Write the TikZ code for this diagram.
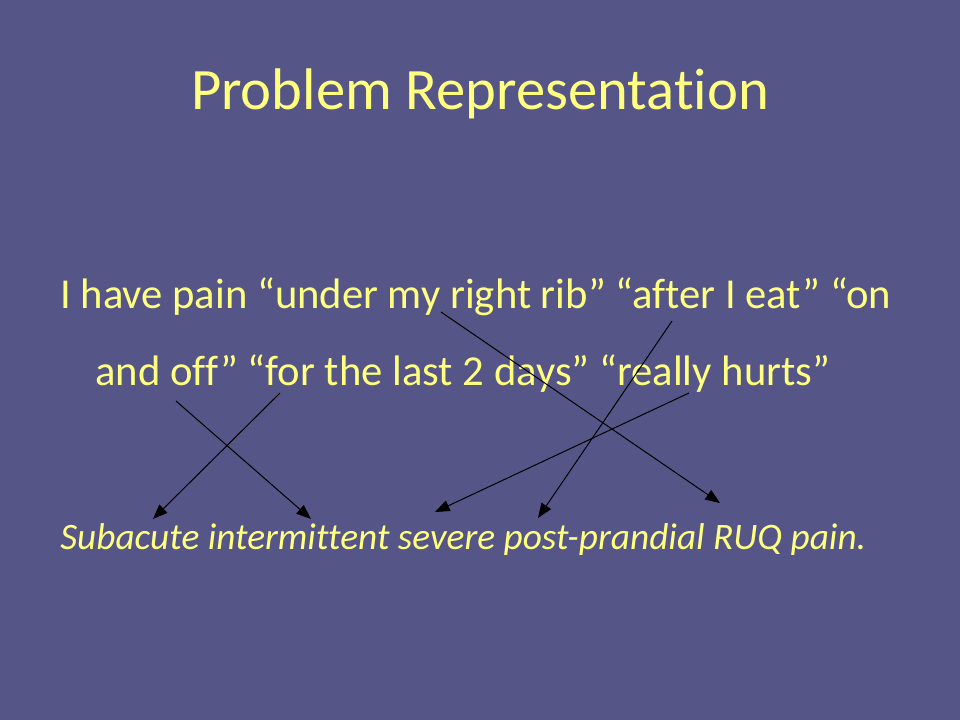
\documentclass[tikz,border=0pt]{standalone}
\usepackage{fontspec}
\setmainfont[Ligatures=NoCommon]{Carlito}
\usetikzlibrary{arrows.meta}
\definecolor{slidebg}{RGB}{85,85,136}
\definecolor{slidetext}{RGB}{255,255,128}
\tikzset{
  txt/.style={inner sep=0pt, anchor=base west, text=slidetext},
  link/.style={draw=black, line width=0.75pt, -{Triangle[length=11pt,width=8.5pt]}}
}
\begin{document}
\begin{tikzpicture}[x=0.75pt,y=-0.75pt]
\fill[slidebg] (0,0) rectangle (960,720);
\useasboundingbox (0,0) rectangle (960,720);
\node[txt, anchor=base] (title) at (480,110) {\fontsize{44}{52}\selectfont Problem Representation};
\node[txt] (line1) at (60,308) {\fontsize{32}{38}\selectfont I have pain “under my right rib” “after I eat” “on};
\node[txt] (line2) at (95,385) {\fontsize{32}{38}\selectfont and off” “for the last 2 days” “really hurts”};
\node[txt] (summary) at (60,549) {\fontsize{28}{34}\selectfont\itshape Subacute intermittent severe post-prandial RUQ pain.};
% source points
\coordinate (sOnOff) at (176,401);
\coordinate (sDays) at (280,393);
\coordinate (sRib) at (441,312);
\coordinate (sEat) at (672,321);
\coordinate (sHurts) at (689,393);
% target points
\coordinate (tSub) at (153,519);
\coordinate (tInt) at (311,519);
\coordinate (tSev) at (435,512);
\coordinate (tPost) at (538,518);
\coordinate (tRUQ) at (720,503);
\draw[link] (sOnOff) -- (tInt);
\draw[link] (sDays) -- (tSub);
\draw[link] (sRib) -- (tRUQ);
\draw[link] (sEat) -- (tPost);
\draw[link] (sHurts) -- (tSev);
\end{tikzpicture}
\end{document}
